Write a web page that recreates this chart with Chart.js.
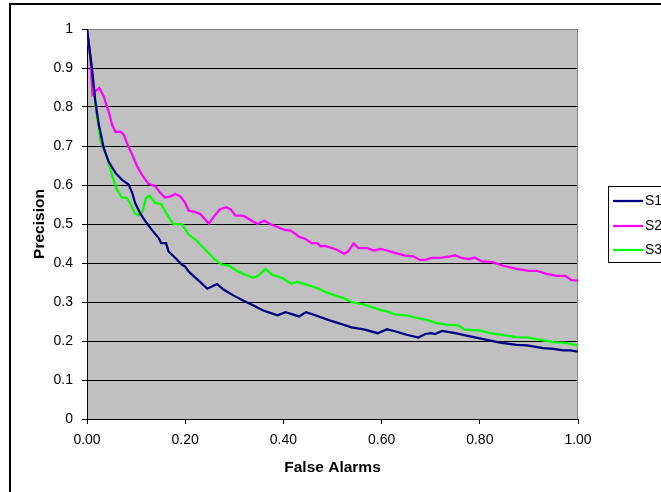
<!DOCTYPE html>
<html>
<head>
<meta charset="utf-8">
<script src="https://cdn.jsdelivr.net/npm/chart.js@4"></script>
<style>
  html, body { margin: 0; padding: 0; background: #fff; }
  #wrap { width: 661px; height: 492px; }
</style>
</head>
<body>
<div id="wrap"><canvas id="c" width="661" height="492"></canvas></div>
<script>
// ---- data ----
const seriesNames = ['S1', 'S2', 'S3'];
const xTickLabels = ['0.00', '0.20', '0.40', '0.60', '0.80', '1.00'];
const yTickLabels = ['0', '0.1', '0.2', '0.3', '0.4', '0.5', '0.6', '0.7', '0.8', '0.9', '1'];
const xTitle = 'False Alarms';
const yTitle = 'Precision';

const s1X = [0, 0.010, 0.017, 0.024, 0.034, 0.044, 0.058, 0.071, 0.085, 0.092, 0.098, 0.108, 0.119, 0.132, 0.146, 0.151, 0.161, 0.166, 0.180, 0.193, 0.200, 0.207, 0.220, 0.231, 0.245, 0.265, 0.278, 0.298, 0.319, 0.339, 0.359, 0.373, 0.388, 0.404, 0.417, 0.432, 0.446, 0.465, 0.494, 0.512, 0.539, 0.566, 0.592, 0.611, 0.627, 0.651, 0.675, 0.689, 0.701, 0.709, 0.723, 0.750, 0.773, 0.807, 0.841, 0.875, 0.896, 0.929, 0.950, 0.970, 0.984, 1.000];
const s1Y = [1.000, 0.900, 0.814, 0.755, 0.695, 0.660, 0.631, 0.614, 0.601, 0.580, 0.554, 0.528, 0.507, 0.485, 0.464, 0.451, 0.451, 0.430, 0.413, 0.396, 0.391, 0.378, 0.363, 0.351, 0.334, 0.346, 0.332, 0.317, 0.303, 0.291, 0.278, 0.272, 0.266, 0.274, 0.269, 0.263, 0.274, 0.266, 0.253, 0.246, 0.235, 0.229, 0.220, 0.230, 0.225, 0.216, 0.209, 0.218, 0.220, 0.218, 0.226, 0.220, 0.214, 0.205, 0.196, 0.190, 0.189, 0.182, 0.180, 0.176, 0.176, 0.173];

const s2X = [0, 0.007, 0.011, 0.020, 0.025, 0.034, 0.044, 0.051, 0.058, 0.068, 0.075, 0.081, 0.092, 0.102, 0.112, 0.125, 0.139, 0.149, 0.159, 0.170, 0.180, 0.190, 0.200, 0.207, 0.220, 0.231, 0.248, 0.259, 0.271, 0.284, 0.293, 0.302, 0.319, 0.332, 0.347, 0.361, 0.373, 0.390, 0.404, 0.415, 0.431, 0.444, 0.458, 0.469, 0.476, 0.485, 0.509, 0.524, 0.532, 0.543, 0.553, 0.570, 0.585, 0.597, 0.611, 0.627, 0.648, 0.665, 0.678, 0.689, 0.702, 0.723, 0.739, 0.750, 0.763, 0.777, 0.790, 0.804, 0.824, 0.848, 0.875, 0.899, 0.916, 0.936, 0.957, 0.974, 0.987, 1.000];
const s2Y = [1.000, 0.926, 0.832, 0.844, 0.849, 0.827, 0.789, 0.755, 0.736, 0.737, 0.729, 0.708, 0.678, 0.648, 0.626, 0.603, 0.597, 0.580, 0.568, 0.571, 0.577, 0.571, 0.554, 0.534, 0.531, 0.525, 0.501, 0.520, 0.538, 0.543, 0.537, 0.522, 0.521, 0.511, 0.500, 0.509, 0.500, 0.491, 0.484, 0.483, 0.468, 0.462, 0.451, 0.451, 0.443, 0.444, 0.434, 0.424, 0.430, 0.450, 0.438, 0.438, 0.432, 0.436, 0.432, 0.426, 0.419, 0.417, 0.408, 0.408, 0.413, 0.414, 0.417, 0.420, 0.413, 0.410, 0.414, 0.404, 0.403, 0.393, 0.385, 0.380, 0.380, 0.372, 0.367, 0.367, 0.356, 0.355];

const s3X = [0, 0.007, 0.013, 0.020, 0.027, 0.034, 0.041, 0.051, 0.061, 0.071, 0.081, 0.088, 0.097, 0.105, 0.113, 0.120, 0.127, 0.139, 0.151, 0.163, 0.176, 0.193, 0.207, 0.224, 0.231, 0.244, 0.261, 0.275, 0.288, 0.305, 0.322, 0.339, 0.349, 0.363, 0.377, 0.397, 0.417, 0.427, 0.448, 0.468, 0.485, 0.505, 0.522, 0.539, 0.566, 0.597, 0.611, 0.627, 0.651, 0.672, 0.692, 0.712, 0.733, 0.756, 0.770, 0.800, 0.821, 0.848, 0.875, 0.896, 0.923, 0.950, 0.974, 1.000];
const s3Y = [1.000, 0.926, 0.849, 0.780, 0.716, 0.695, 0.669, 0.626, 0.588, 0.568, 0.567, 0.554, 0.528, 0.522, 0.532, 0.567, 0.573, 0.554, 0.551, 0.524, 0.500, 0.500, 0.473, 0.457, 0.447, 0.430, 0.408, 0.396, 0.394, 0.380, 0.370, 0.362, 0.367, 0.385, 0.370, 0.362, 0.346, 0.352, 0.344, 0.336, 0.326, 0.317, 0.310, 0.300, 0.293, 0.280, 0.276, 0.268, 0.266, 0.259, 0.254, 0.246, 0.242, 0.240, 0.229, 0.227, 0.220, 0.215, 0.210, 0.209, 0.203, 0.197, 0.195, 0.189];

const seriesColors = ['#000080', '#FF00FF', '#00FF00'];

// ---- build ----
function pts(xs, ys) { return xs.map((x, i) => ({ x: x, y: ys[i] })); }
const allX = [s1X, s2X, s3X];
const allY = [s1Y, s2Y, s3Y];
const FONT = '"Liberation Sans", Arial, sans-serif';

const decorPlugin = {
  id: 'decor',
  beforeDraw(chart) {
    const { ctx, chartArea: a } = chart;
    ctx.save();
    ctx.fillStyle = '#ffffff';
    ctx.fillRect(0, 0, chart.width, chart.height);
    ctx.fillStyle = '#C0C0C0';
    ctx.fillRect(a.left, a.top, a.right - a.left, a.bottom - a.top);
    ctx.restore();
  },
  beforeDatasetsDraw(chart) {
    const { ctx, chartArea: a } = chart;
    ctx.save();
    ctx.strokeStyle = '#808080';
    ctx.lineWidth = 1;
    ctx.beginPath();
    ctx.moveTo(a.left, a.top + 0.5);
    ctx.lineTo(a.right - 0.5, a.top + 0.5);
    ctx.lineTo(a.right - 0.5, a.bottom);
    ctx.stroke();
    ctx.restore();
  },
  afterDraw(chart) {
    const ctx = chart.ctx;
    ctx.save();
    // legend box
    ctx.fillStyle = '#ffffff';
    ctx.fillRect(608.5, 186.5, 70, 76);
    ctx.strokeStyle = '#000000';
    ctx.lineWidth = 1;
    ctx.strokeRect(608.5, 186.5, 70, 76);
    const ys = [201, 226, 250];
    chart.data.datasets.forEach((ds, i) => {
      ctx.strokeStyle = ds.borderColor;
      ctx.lineWidth = 2.25;
      ctx.beginPath();
      ctx.moveTo(613, ys[i]);
      ctx.lineTo(643, ys[i]);
      ctx.stroke();
      ctx.fillStyle = '#000';
      ctx.font = '14px ' + FONT;
      ctx.textBaseline = 'middle';
      ctx.textAlign = 'left';
      ctx.fillText(ds.label, 645, ys[i] + 0.5);
    });
    // outer border
    ctx.strokeStyle = '#000';
    ctx.lineWidth = 2;
    ctx.strokeRect(10, 4, 700, 520);
    ctx.restore();
  }
};

new Chart(document.getElementById('c'), {
  type: 'scatter',
  data: {
    datasets: seriesNames.map((n, i) => ({
      label: n,
      data: pts(allX[i], allY[i]),
      showLine: true,
      borderColor: seriesColors[i],
      backgroundColor: seriesColors[i],
      borderWidth: 2.25,
      pointRadius: 0,
      pointHoverRadius: 0,
      tension: 0,
      fill: false
    }))
  },
  options: {
    responsive: false,
    animation: false,
    devicePixelRatio: 1,
    layout: { padding: { top: 29, right: 83, left: 0, bottom: 0 } },
    plugins: { legend: { display: false }, tooltip: { enabled: false } },
    scales: {
      x: {
        type: 'linear', min: 0, max: 1,
        afterFit(s) { s.height = 73; },
        ticks: {
          stepSize: 0.2, color: '#000', padding: 8,
          font: { family: FONT, size: 14 },
          maxRotation: 0,
          callback: (v, i) => xTickLabels[i]
        },
        grid: { drawOnChartArea: false, color: '#000', tickLength: 5, lineWidth: 1 },
        border: { color: '#000', width: 1 },
        title: { display: true, text: xTitle, color: '#000',
          font: { family: FONT, size: 15.5, weight: 'bold' },
          padding: { top: 0, bottom: 15 } }
      },
      y: {
        type: 'linear', min: 0, max: 1,
        afterFit(s) { s.width = 87; },
        ticks: {
          stepSize: 0.1, color: '#000', padding: 9,
          font: { family: FONT, size: 14 },
          callback: (v, i) => yTickLabels[i]
        },
        grid: {
          color: (c) => (c.tick && c.tick.value === 1 ? '#808080' : '#000'),
          tickColor: '#000', tickLength: 5, lineWidth: 1
        },
        border: { color: '#000', width: 1 },
        title: { display: true, text: yTitle, color: '#000',
          font: { family: FONT, size: 15.5, weight: 'bold' },
          padding: { top: 30, bottom: 0 } }
      }
    }
  },
  plugins: [decorPlugin]
});
</script>
</body>
</html>
